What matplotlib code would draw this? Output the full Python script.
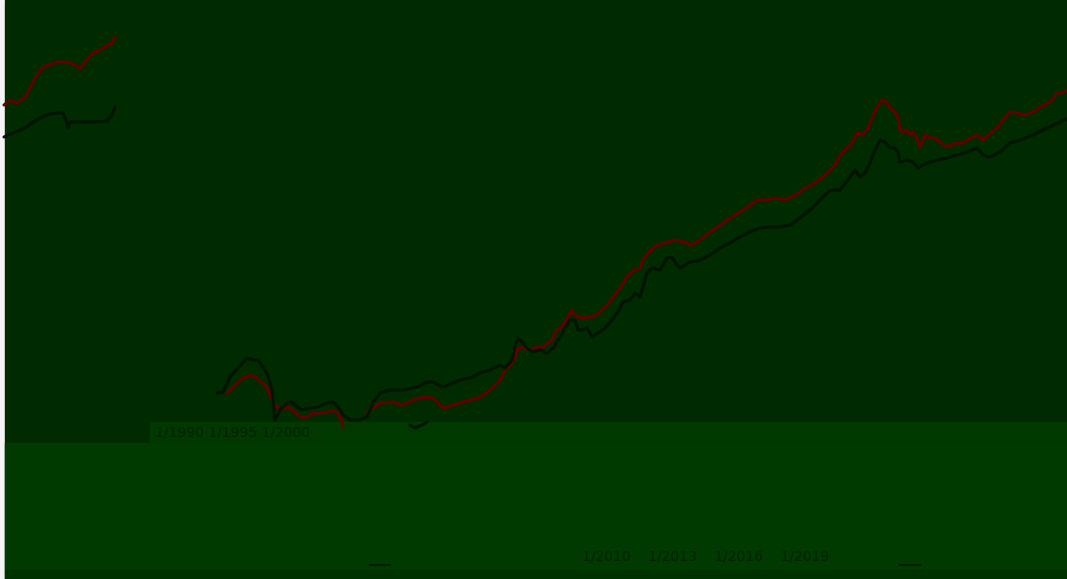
import matplotlib
matplotlib.use("Agg")
import matplotlib.pyplot as plt
from matplotlib.patches import Rectangle

# ---- data (x position, y level in picture units) ----
red_left_x = [4, 10, 17, 25, 30, 35, 42, 48, 58, 68, 75, 80, 88, 93, 100, 107, 112, 115]
red_left_y = [105, 100, 103, 97, 88, 78, 68, 65, 62, 62, 65, 69, 58, 53, 50, 45, 43, 37]
black_left_x = [4, 13, 25, 33, 42, 50, 58, 63, 67, 68, 70, 80, 93, 107, 112, 115]
black_left_y = [137, 133, 128, 122, 117, 114, 113, 113, 123, 128, 122, 122, 122, 121, 115, 107]

red_mid_x = [227, 235, 243, 250, 257, 262, 267, 270, 273, 280, 287, 293, 300, 307, 313, 320, 327,
             333, 338, 342, 343]
red_mid_y = [393, 385, 378, 375, 378, 383, 387, 395, 402, 410, 407, 410, 417, 417, 413, 413, 412,
             410, 413, 422, 427]

red_main_x = [367, 380, 393, 403, 413, 423, 433, 443, 453, 470, 480, 490, 500, 505, 512, 515, 518,
              523, 530, 537, 543, 552, 555, 563, 568, 571, 575, 580, 587, 593, 600, 607, 613, 620,
              625, 630, 635, 640, 643, 648, 655, 665, 675, 685, 690, 700, 710, 720, 730, 740, 750,
              757, 765, 775, 785, 795, 805, 815, 825, 835, 840, 845, 852, 857, 862, 867, 872, 877,
              882, 887, 890, 895, 898, 900, 903, 907, 910, 913, 917, 920, 925, 930, 935, 940, 947,
              955, 963, 970, 977, 983, 988, 997, 1003, 1010, 1017, 1025, 1033, 1043, 1050, 1057,
              1063, 1067]
red_main_y = [412, 403, 402, 405, 400, 397, 398, 408, 405, 400, 397, 390, 380, 370, 363, 357, 348,
              348, 350, 347, 347, 340, 332, 325, 317, 310, 315, 318, 317, 317, 312, 305, 297, 288,
              280, 273, 270, 268, 260, 253, 246, 243, 240, 242, 245, 240, 232, 225, 218, 212, 205,
              200, 200, 198, 200, 195, 188, 183, 175, 165, 155, 150, 143, 133, 135, 130, 118, 107,
              100, 102, 108, 112, 118, 130, 132, 130, 135, 132, 138, 147, 135, 138, 138, 142, 147,
              143, 143, 138, 135, 140, 135, 128, 120, 112, 113, 115, 112, 105, 102, 93,
              92, 90]

black_mid_x = [217, 223, 230, 238, 247, 253, 258, 263, 267, 272, 275, 280, 287, 292, 297, 302, 308,
               317, 327, 333, 338, 343, 350, 360, 367, 373, 380, 390, 403, 417, 427, 433, 443, 453,
               460, 470, 480, 490, 500, 505, 512, 515, 518, 522, 527, 533, 540, 547, 553, 560, 565,
               570, 575, 578, 583, 587, 592, 598, 605, 612, 618, 623, 630, 635, 640, 643, 647, 652,
               660, 667, 672, 677, 680, 690, 700, 710, 720, 730, 740, 750, 760, 770, 780, 790, 800,
               810, 820, 830, 840, 848, 855, 860, 865, 870, 875, 880, 885, 890, 895, 898, 900, 907,
               913, 918, 927, 937, 947, 957, 967, 977, 983, 990, 1000, 1010, 1020, 1033, 1047, 1060,
               1067]
black_mid_y = [393, 392, 377, 368, 358, 360, 360, 367, 373, 390, 420, 410, 403, 402, 407, 410, 408,
               407, 403, 402, 407, 415, 420, 420, 417, 403, 393, 390, 390, 387, 382, 382, 387, 383,
               380, 378, 373, 370, 365, 368, 360, 347, 338, 342, 348, 352, 350, 353, 348, 337, 328,
               320, 320, 330, 330, 328, 337, 333, 328, 320, 312, 302, 300, 293, 297, 287, 273, 268,
               270, 258, 257, 265, 268, 262, 260, 255, 248, 243, 237, 232, 228, 227, 227, 225, 218,
               210, 200, 190, 190, 180, 170, 177, 173, 163, 150, 140, 142, 148, 148, 152, 162, 160,
               162, 168, 163, 160, 158, 155, 152, 148, 155, 157, 152, 143, 140, 135, 128, 122,
               119]

black_bit_x = [410, 415, 422, 427]
black_bit_y = [425, 428, 425, 422]

RED = "#620000"
BLACK = "#001400"
BG = "#002a00"
BAND = "#003a00"

fig = plt.figure(figsize=(10.67, 5.79), dpi=100)
fig.patch.set_facecolor("#f4f4f4")
ax = fig.add_axes([0, 0, 1, 1])
ax.set_xlim(0, 1067)
ax.set_ylim(579, 0)
ax.axis("off")

# background blocks
ax.add_patch(Rectangle((5, 0), 1062, 579, color=BG, zorder=0))
ax.add_patch(Rectangle((5, 443), 1062, 127, color=BAND, zorder=1))
ax.add_patch(Rectangle((150, 422), 917, 21, color="#003800", zorder=1))
ax.add_patch(Rectangle((5, 570), 1062, 9, color="#003200", zorder=1))

kw = dict(lw=2.2, solid_capstyle="round", solid_joinstyle="round", zorder=3)
ax.plot(red_left_x, red_left_y, color=RED, **kw)
ax.plot(black_left_x, black_left_y, color=BLACK, **kw)
ax.plot(red_mid_x, red_mid_y, color=RED, **kw)
ax.plot(red_main_x, red_main_y, color=RED, **kw)
ax.plot(black_mid_x, black_mid_y, color=BLACK, **kw)
ax.plot(black_bit_x, black_bit_y, color=BLACK, **kw)

# garbled tick-label text
ax.text(155, 433, "1/1990 1/1995 1/2000", color="#002000", fontsize=10,
        va="center", ha="left", zorder=4)
ax.text(582, 557, "1/2010    1/2013    1/2016    1/2019", color="#002000", fontsize=10,
        va="center", ha="left", zorder=4)
ax.plot([370, 390], [565, 565], color="#001c00", lw=1.5, zorder=4)
ax.plot([900, 920], [565, 565], color="#001c00", lw=1.5, zorder=4)

fig.savefig("out.png", dpi=100, facecolor=fig.get_facecolor())
